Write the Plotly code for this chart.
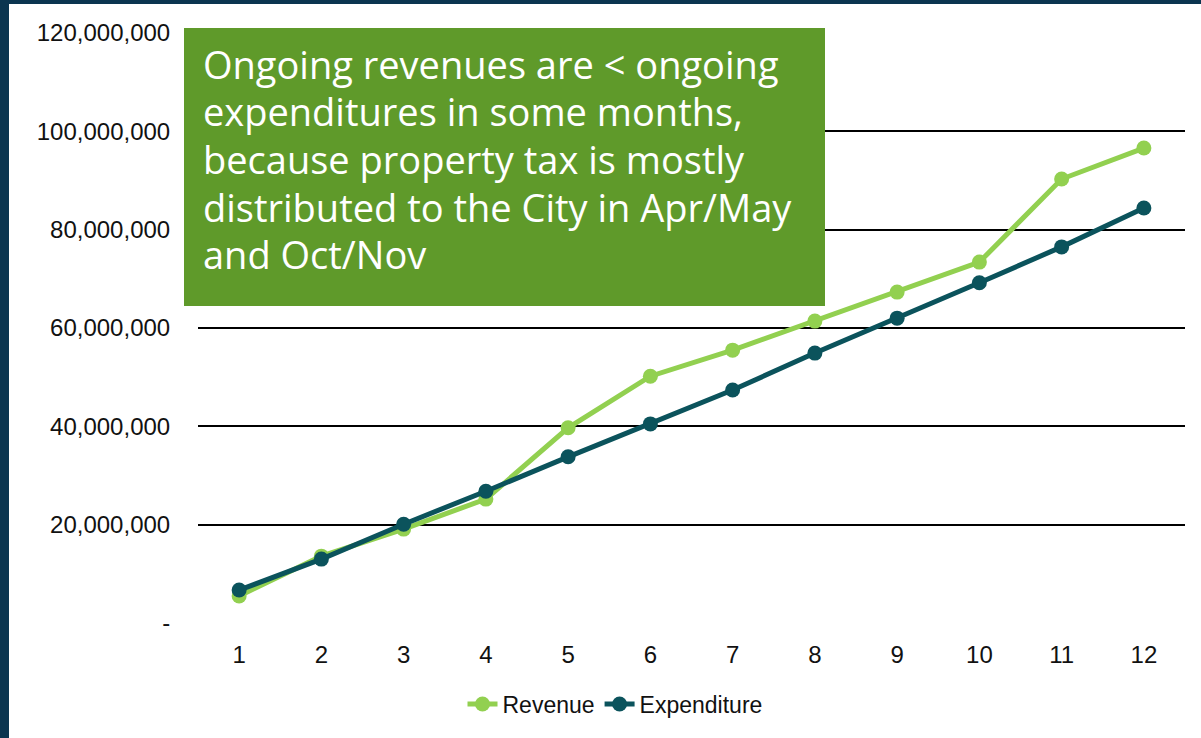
import plotly.graph_objects as go

months = [1, 2, 3, 4, 5, 6, 7, 8, 9, 10, 11, 12]
revenue = [5.5e6, 13.6e6, 19.1e6, 25.2e6, 39.7e6, 50.2e6, 55.5e6, 61.4e6, 67.3e6, 73.4e6, 90.3e6, 96.6e6]
expenditure = [6.7e6, 13.0e6, 20.1e6, 26.8e6, 33.8e6, 40.5e6, 47.4e6, 54.9e6, 62.0e6, 69.2e6, 76.5e6, 84.4e6]
y_ticks = [0, 20e6, 40e6, 60e6, 80e6, 100e6, 120e6]
y_ticktext = ["-", "20,000,000", "40,000,000", "60,000,000", "80,000,000", "100,000,000", "120,000,000"]
note_lines = [
    "Ongoing revenues are &lt; ongoing",
    "expenditures in some months,",
    "because property tax is mostly",
    "distributed to the City in Apr/May",
    "and Oct/Nov",
]

W, H = 1201, 738
ML, MR, MT, MB = 198, 16, 33, 115
PW, PH = W - ML - MR, H - MT - MB


def px_x(p):
    return (p - ML) / PW


def px_y(p):
    return (H - MB - p) / PH


REV_C = "#92d050"
EXP_C = "#0b535c"
FRAME_C = "#0b3550"

fig = go.Figure()
fig.add_trace(go.Scatter(x=months, y=revenue, name="Revenue", mode="lines+markers",
                         line=dict(color=REV_C, width=5), marker=dict(size=15, color=REV_C)))
fig.add_trace(go.Scatter(x=months, y=expenditure, name="Expenditure", mode="lines+markers",
                         line=dict(color=EXP_C, width=5), marker=dict(size=15, color=EXP_C)))

shapes = [
    # green note box
    dict(type="rect", xref="paper", yref="paper", x0=px_x(184), x1=px_x(825), y0=px_y(306), y1=px_y(28),
         fillcolor="#5f9a2a", line=dict(width=0), layer="above"),
    # dark frame: left and top
    dict(type="rect", xref="paper", yref="paper", x0=px_x(0), x1=px_x(9), y0=px_y(H), y1=px_y(0),
         fillcolor=FRAME_C, line=dict(width=0), layer="above"),
    dict(type="rect", xref="paper", yref="paper", x0=px_x(0), x1=px_x(W), y0=px_y(4), y1=px_y(0),
         fillcolor=FRAME_C, line=dict(width=0), layer="above"),
]

LINE_H = 47.5
for i, line in enumerate(note_lines):
    fig.add_annotation(xref="paper", yref="paper", x=px_x(201), y=px_y(82 + i * LINE_H),
                       xanchor="left", yanchor="bottom", yshift=-10,
                       text=line, align="left", showarrow=False,
                       font=dict(family="Open Sans", size=38, color="white"))

fig.update_layout(
    width=W, height=H, autosize=False,
    margin=dict(l=ML, r=MR, t=MT, b=MB, pad=0),
    paper_bgcolor="white", plot_bgcolor="white",
    shapes=shapes,
    showlegend=True,
    legend=dict(orientation="h", x=px_x(615), xanchor="center", y=px_y(704), yanchor="middle",
                font=dict(family="Liberation Sans", size=23, color="#111"),
                bgcolor="rgba(0,0,0,0)"),
    font=dict(family="Liberation Sans", size=24, color="#111"),
    xaxis=dict(range=[0.5, 12.5], tickvals=months, showgrid=False, zeroline=False, showline=False,
               ticks="outside", ticklen=10, tickcolor="rgba(0,0,0,0)",
               tickfont=dict(size=24, color="#111")),
    yaxis=dict(range=[0, 120e6], tickvals=y_ticks, ticktext=y_ticktext, showgrid=True,
               gridcolor="#000", gridwidth=1.5, zeroline=True, zerolinecolor="white", zerolinewidth=3,
               showline=False, ticks="outside", ticklen=22, tickcolor="rgba(0,0,0,0)",
               tickfont=dict(size=24, color="#111")),
)

fig.write_html("out.html", config={"displayModeBar": False},
               post_script="document.body.style.margin='0';document.body.style.overflow='hidden';")
